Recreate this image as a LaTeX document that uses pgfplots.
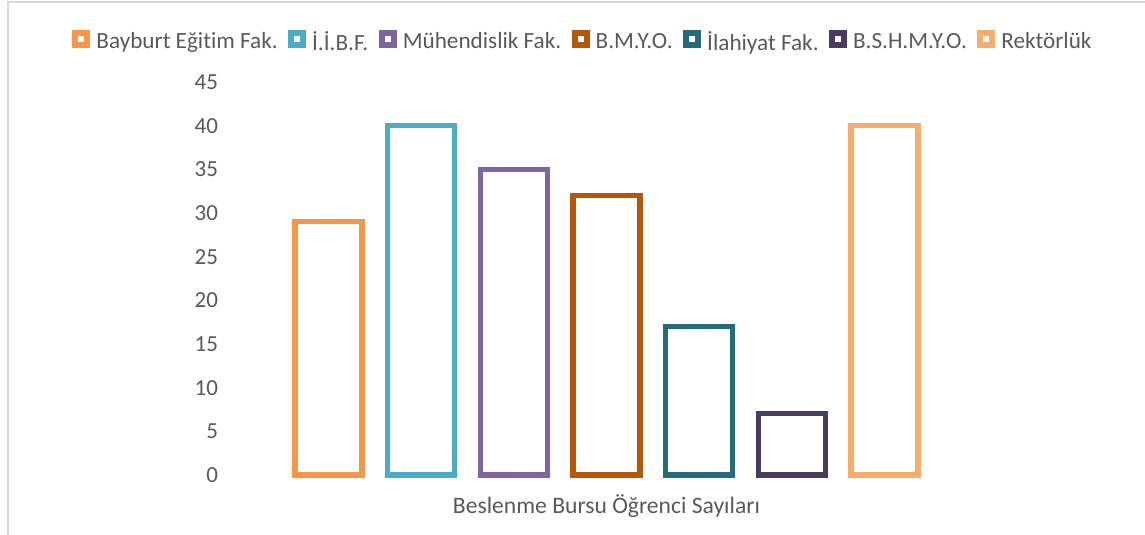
\documentclass[border=0pt]{standalone}
\usepackage{fontspec}
\setmainfont{Carlito}[Ligatures={NoCommon}]
\usepackage{pgfplots}
\pgfplotsset{compat=1.18}
\definecolor{cA}{HTML}{F79646}
\definecolor{cB}{HTML}{4BACC6}
\definecolor{cC}{HTML}{8064A2}
\definecolor{cD}{HTML}{B5570A}
\definecolor{cE}{HTML}{276A7C}
\definecolor{cF}{HTML}{4B3A60}
\definecolor{cG}{HTML}{F9AC6C}
\definecolor{txt}{HTML}{595959}
\definecolor{frame}{HTML}{D9D9D9}
\pgfplotsset{
  mybar/.style={ybar, bar shift=0pt, bar width=0.723, draw=#1, fill=white, line width=2.6pt,
    legend image code/.code={\draw[draw=#1, line width=3pt, fill=white] (1.5pt,-1.3pt) rectangle (7.5pt,4.7pt);}},
}
\begin{document}
\begin{tikzpicture}[x=1pt,y=1pt]
\useasboundingbox (0,0) rectangle (572.5,267.5);
\draw[frame, line width=0.8pt] (4,-5) -- (4,266.5) -- (580,266.5);
\begin{axis}[
  at={(112.5pt,30pt)}, anchor=south west,
  width=381.5pt, height=196.5pt, scale only axis,
  xmin=-1.117, xmax=7.117, ymin=0, ymax=45,
  ytick={0,5,...,45},
  xtick={3}, xticklabels={Beslenme Bursu Öğrenci Sayıları},
  axis line style={draw=none},
  major tick length=0pt,
  tick style={draw=none},
  ticklabel style={font=\fontsize{11.5}{13}\selectfont, text=txt},
  xticklabel style={font=\fontsize{11.8}{13}\selectfont},
  /pgf/number format/assume math mode=true,
  xticklabel style={anchor=base, yshift=-19.5pt},
  legend columns=-1,
  legend style={at={(0.4705,1.101)}, anchor=center, draw=none, fill=none,
    font=\fontsize{11.6}{13}\selectfont, text=txt, inner sep=0pt,
    /tikz/every odd column/.append style={column sep=1pt},
    /tikz/every even column/.append style={column sep=3.2pt}},
  clip=false,
]
\addplot[mybar=cA] coordinates {(0,29)};
\addlegendentry{Bayburt Eğitim Fak.}
\addplot[mybar=cB] coordinates {(1,40)};
\addlegendentry{İ.İ.B.F.}
\addplot[mybar=cC] coordinates {(2,35)};
\addlegendentry{Mühendislik Fak.}
\addplot[mybar=cD] coordinates {(3,32)};
\addlegendentry{B.M.Y.O.}
\addplot[mybar=cE] coordinates {(4,17)};
\addlegendentry{İlahiyat Fak.}
\addplot[mybar=cF] coordinates {(5,7)};
\addlegendentry{B.S.H.M.Y.O.}
\addplot[mybar=cG] coordinates {(6,40)};
\addlegendentry{Rektörlük}
\end{axis}
\end{tikzpicture}
\end{document}
